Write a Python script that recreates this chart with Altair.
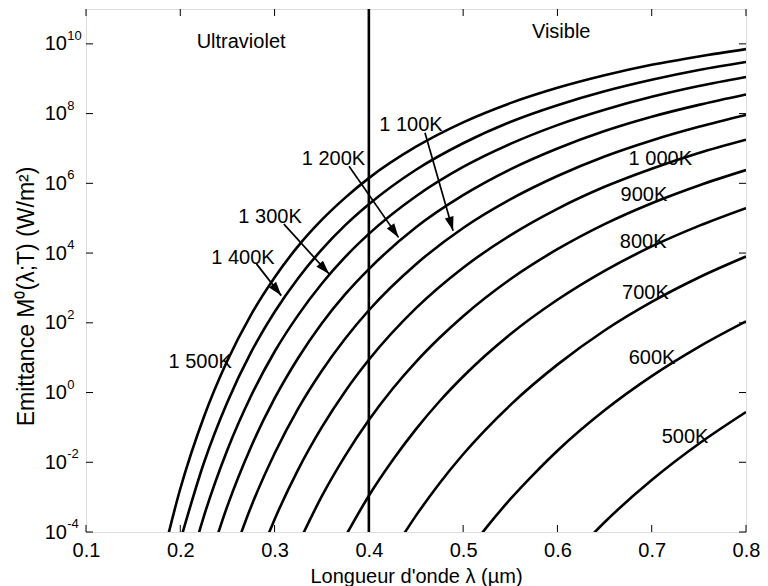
import altair as alt
import pandas as pd

FONT = "Liberation Sans"

# ---- curve data: wavelength (µm) and log10 of emittance
temperatures = [1500, 1400, 1300, 1200, 1100, 1000, 900, 800, 700, 600, 500]

lam_1500 = [0.175, 0.2, 0.225, 0.25, 0.275, 0.3, 0.325, 0.35, 0.375, 0.4, 0.45, 0.5, 0.55, 0.6, 0.65, 0.7, 0.75, 0.8]
log_1500 = [-5.45, -2.76, -0.70, 0.92, 2.23, 3.30, 4.20, 4.95, 5.59, 6.15, 7.05, 7.75, 8.30, 8.74, 9.10, 9.40, 9.64, 9.85]

lam_1400 = [0.2, 0.225, 0.25, 0.275, 0.3, 0.325, 0.35, 0.375, 0.4, 0.45, 0.5, 0.55, 0.6, 0.65, 0.7, 0.75, 0.8]
log_1400 = [-4.25, -2.02, -0.27, 1.15, 2.31, 3.28, 4.10, 4.80, 5.40, 6.39, 7.15, 7.76, 8.24, 8.64, 8.97, 9.25, 9.48]

lam_1300 = [0.2, 0.225, 0.25, 0.275, 0.3, 0.325, 0.35, 0.375, 0.4, 0.45, 0.5, 0.55, 0.6, 0.65, 0.7, 0.75, 0.8]
log_1300 = [-5.97, -3.55, -1.64, -0.10, 1.17, 2.22, 3.12, 3.89, 4.55, 5.63, 6.47, 7.13, 7.67, 8.11, 8.48, 8.79, 9.05]

lam_1200 = [0.225, 0.25, 0.275, 0.3, 0.325, 0.35, 0.375, 0.4, 0.45, 0.5, 0.55, 0.6, 0.65, 0.7, 0.75, 0.8]
log_1200 = [-5.33, -3.25, -1.56, -0.17, 0.99, 1.98, 2.82, 3.54, 4.74, 5.66, 6.40, 7.00, 7.50, 7.91, 8.25, 8.55]

lam_1100 = [0.25, 0.275, 0.3, 0.325, 0.35, 0.375, 0.4, 0.45, 0.5, 0.55, 0.6, 0.65, 0.7, 0.75, 0.8]
log_1100 = [-5.14, -3.28, -1.75, -0.46, 0.62, 1.55, 2.36, 3.68, 4.72, 5.54, 6.21, 6.77, 7.23, 7.62, 7.96]

lam_1000 = [0.275, 0.3, 0.325, 0.35, 0.375, 0.4, 0.45, 0.5, 0.55, 0.6, 0.65, 0.7, 0.75, 0.8]
log_1000 = [-5.35, -3.64, -2.21, -1.00, 0.04, 0.94, 2.42, 3.58, 4.51, 5.27, 5.90, 6.42, 6.87, 7.25]

lam_900 = [0.325, 0.35, 0.375, 0.4, 0.425, 0.45, 0.475, 0.5, 0.55, 0.6, 0.65, 0.7, 0.75, 0.8]
log_900 = [-4.35, -2.98, -1.81, -0.79, 0.10, 0.88, 1.57, 2.19, 3.25, 4.11, 4.83, 5.43, 5.94, 6.38]

lam_800 = [0.375, 0.4, 0.425, 0.45, 0.475, 0.5, 0.55, 0.6, 0.65, 0.7, 0.75, 0.8]
log_800 = [-4.13, -2.96, -1.95, -1.05, -0.25, 0.46, 1.67, 2.66, 3.49, 4.19, 4.78, 5.29]

lam_700 = [0.425, 0.45, 0.475, 0.5, 0.55, 0.6, 0.65, 0.7, 0.75, 0.8]
log_700 = [-4.57, -3.53, -2.60, -1.77, -0.36, 0.80, 1.78, 2.60, 3.30, 3.90]

lam_600 = [0.5, 0.525, 0.55, 0.575, 0.6, 0.65, 0.7, 0.75, 0.8]
log_600 = [-4.75, -3.86, -3.06, -2.34, -1.67, -0.51, 0.47, 1.31, 2.04]

lam_500 = [0.6, 0.65, 0.7, 0.75, 0.8]
log_500 = [-5.15, -3.72, -2.51, -1.47, -0.56]

curve_lams = {1500: lam_1500, 1400: lam_1400, 1300: lam_1300, 1200: lam_1200, 1100: lam_1100,
              1000: lam_1000, 900: lam_900, 800: lam_800, 700: lam_700, 600: lam_600, 500: lam_500}
curve_logs = {1500: log_1500, 1400: log_1400, 1300: log_1300, 1200: log_1200, 1100: log_1100,
              1000: log_1000, 900: log_900, 800: log_800, 700: log_700, 600: log_600, 500: log_500}

# ---- axes
x_ticks = [0.1, 0.2, 0.3, 0.4, 0.5, 0.6, 0.7, 0.8]
y_tick_exps = [-4, -2, 0, 2, 4, 6, 8, 10]
y_tick_sup = ["-4", "-2", "0", "2", "4", "6", "8", "10"]

# ---- annotations
boundary_lam = [0.4]

region_names = ["Ultraviolet", "Visible"]
region_lam = [0.2645, 0.604]
region_log = [10.05, 10.33]

label_texts = ["1 500K", "1 400K", "1 300K", "1 200K", "1 100K", "1 000K",
               "900K", "800K", "700K", "600K", "500K"]
label_lam = [0.2211, 0.2665, 0.2952, 0.3625, 0.4447, 0.7091, 0.6917, 0.6909, 0.6933, 0.7004, 0.7354]
label_log = [0.87, 3.87, 5.04, 6.69, 7.67, 6.71, 5.67, 4.33, 2.86, 1.00, -1.27]

arrow_from_lam = [0.2808, 0.3099, 0.3790, 0.4595]
arrow_from_log = [3.69, 4.83, 6.49, 7.45]
arrow_to_lam = [0.3071, 0.3579, 0.4315, 0.4893]
arrow_to_log = [2.78, 3.40, 4.45, 4.64]
arrow_angle = [141.7, 137.6, 145.1, 163.9]

# ---- tables
rows = []
for T in temperatures:
    for l, e in zip(curve_lams[T], curve_logs[T]):
        rows.append({"T": T, "lam": l, "M": 10.0 ** e})
curves = pd.DataFrame(rows)

xt = pd.DataFrame({"lam": x_ticks})
yt = pd.DataFrame({"M": [10.0 ** e for e in y_tick_exps], "sup": y_tick_sup})
bd = pd.DataFrame({"lam": boundary_lam})
regions = pd.DataFrame({"lam": region_lam, "M": [10.0 ** v for v in region_log], "text": region_names})
labels = pd.DataFrame({"lam": label_lam, "M": [10.0 ** v for v in label_log], "text": label_texts})
arrows = pd.DataFrame({
    "lam": arrow_from_lam, "M": [10.0 ** v for v in arrow_from_log],
    "lam2": arrow_to_lam, "M2": [10.0 ** v for v in arrow_to_log],
    "angle": arrow_angle,
})

W, H = 660, 523

xs = alt.Scale(domain=[0.1, 0.8], nice=False, zero=False)
ys = alt.Scale(type="log", domain=[1e-4, 1e11], nice=False)

xaxis = alt.Axis(values=x_ticks, format=".1f", title="Longueur d'onde λ (µm)",
                 labelFontSize=20, labelPadding=18, labelBaseline="middle",
                 labelFlush=False, labelOverlap=False,
                 ticks=False, tickSize=0, domain=False, grid=False,
                 labelColor="black", titleColor="black", labelFont=FONT, titleFont=FONT,
                 titleFontSize=20, titleFontWeight="normal", titleY=50, titleBaseline="alphabetic")
yaxis = alt.Axis(values=[10.0 ** e for e in y_tick_exps], labelExpr="'10'",
                 title="Emittance M⁰(λ;T) (W/m²)",
                 labelFontSize=20, labelPadding=19.5, labelAlign="right", labelBaseline="middle",
                 labelFlush=False, labelOverlap=False,
                 ticks=False, tickSize=0, domain=False, grid=False,
                 labelColor="black", titleColor="black", labelFont=FONT, titleFont=FONT,
                 titleFontSize=23, titleFontWeight="normal", titleX=-53, titleY=287,
                 titleAlign="center", titleBaseline="alphabetic", titleAngle=270)

X = alt.X("lam:Q", scale=xs, axis=xaxis)
Y = alt.Y("M:Q", scale=ys, axis=yaxis)

lines = alt.Chart(curves).mark_line(
    color="black", strokeWidth=2.6, interpolate="monotone", clip=True
).encode(x=X, y=Y, detail="T:N", order="lam:Q")

boundary = alt.Chart(bd).mark_rule(color="black", strokeWidth=2.6).encode(x=X)

arrow_lines = alt.Chart(arrows).mark_rule(color="black", strokeWidth=1.7).encode(
    x=X, y=Y, x2="lam2:Q", y2="M2:Q")

arrow_heads = alt.Chart(arrows).mark_point(
    shape="M0,0L-0.32,1L0.32,1Z", filled=True, size=784, color="black",
    opacity=1, fillOpacity=1, strokeWidth=0
).encode(
    x=alt.X("lam2:Q", scale=xs, axis=xaxis),
    y=alt.Y("M2:Q", scale=ys, axis=yaxis),
    angle=alt.Angle("angle:Q", scale=None),
)

curve_labels = alt.Chart(labels).mark_text(
    font=FONT, fontSize=20, color="black", align="center", baseline="middle"
).encode(x=X, y=Y, text="text:N")

region_labels = alt.Chart(regions).mark_text(
    font=FONT, fontSize=20, color="black", align="center", baseline="middle"
).encode(x=X, y=Y, text="text:N")

tick_bottom = alt.Chart(xt).mark_rule(color="black", strokeWidth=1).encode(
    x=X, y=alt.value(H), y2=alt.value(H - 7))
tick_top = alt.Chart(xt).mark_rule(color="black", strokeWidth=1).encode(
    x=X, y=alt.value(0), y2=alt.value(7))
tick_left = alt.Chart(yt).mark_rule(color="black", strokeWidth=1).encode(
    y=Y, x=alt.value(0), x2=alt.value(7))
tick_right = alt.Chart(yt).mark_rule(color="black", strokeWidth=1).encode(
    y=Y, x=alt.value(W), x2=alt.value(W - 7))

exponents = alt.Chart(yt).mark_text(
    font=FONT, fontSize=13, color="black", align="left", baseline="middle", dy=-8
).encode(y=Y, x=alt.value(-18.8), text="sup:N")

chart = alt.layer(
    lines, boundary, arrow_lines, arrow_heads, curve_labels, region_labels,
    tick_bottom, tick_top, tick_left, tick_right, exponents
).properties(
    width=W, height=H,
    autosize=alt.AutoSizeParams(type="none"),
    padding={"left": 78, "top": 1, "right": 14, "bottom": 54},
).configure_view(
    stroke="black", strokeWidth=2
).configure(background="white")

chart.save("out.html", embed_options={"renderer": "svg", "actions": False})
